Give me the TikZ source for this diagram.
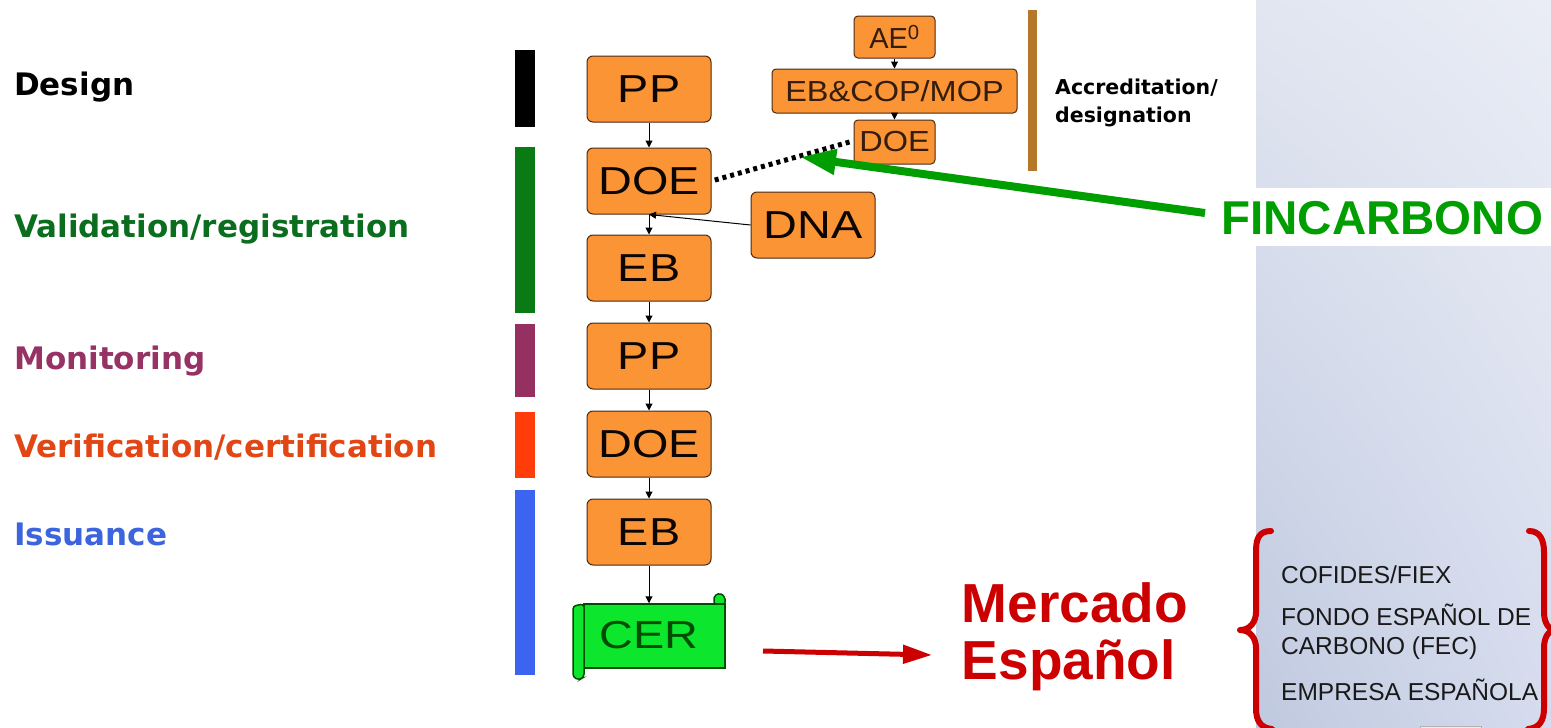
\documentclass[tikz,border=0pt]{standalone}
\usepackage{fontspec}
\setmainfont{Liberation Sans}
\newfontfamily\stagefont{DejaVu Sans}
\usetikzlibrary{arrows.meta,shadings}
\definecolor{boxfill}{HTML}{FB9434}
\definecolor{boxline}{HTML}{4A2A14}
\definecolor{scrollfill}{HTML}{0CE62C}
\definecolor{fingreen}{HTML}{009E00}
\definecolor{mktred}{HTML}{CC0000}
\definecolor{panelul}{HTML}{E2E6F1}
\definecolor{panelur}{HTML}{EAEDF5}
\definecolor{panelll}{HTML}{BFC9DF}
\definecolor{panellr}{HTML}{D6DCEE}
\definecolor{barbrown}{HTML}{B47828}
\definecolor{valcol}{HTML}{0A6E1E}
\definecolor{moncol}{HTML}{963264}
\definecolor{vercol}{HTML}{E14614}
\definecolor{isscol}{HTML}{3C64DC}
\newcommand{\widebox}[1]{\scalebox{1.2}[1]{#1}}
\newcommand{\widesmall}[1]{\scalebox{1.12}[1]{#1}}
\tikzset{
  flowbox/.style={draw=boxline,fill=boxfill,rounded corners=6pt,line width=1pt,inner sep=0pt,text=black!85!boxline,font=\fontsize{39}{39}\selectfont},
  smallbox/.style={flowbox,rounded corners=4pt,font=\fontsize{29}{29}\selectfont,text=boxline!70!black},
  stagelabel/.style={anchor=base west,inner sep=0pt,font=\stagefont\bfseries\fontsize{#1}{#1}\selectfont},
  flowarrow/.style={-{Triangle[length=7pt,width=7pt]},line width=1pt,black},
  panelitem/.style={anchor=west,inner sep=0pt,align=left,font=\fontsize{24.5}{29}\selectfont,text=black!90},
  bracestroke/.style={draw=mktred,line width=6pt,line cap=round,line join=round}
}
\begin{document}
\begin{tikzpicture}[x=1pt,y=-1pt]
\useasboundingbox (0,0) rectangle (1551,728);
\shade[upper left=panelul,upper right=panelur,lower left=panelll,lower right=panellr] (1256,0) rectangle (1551,728);
\fill[white] (1256,188) rectangle (1551,246);
\draw[gray!60,fill=gray!15] (1420,726.5) rectangle (1481,730);

\foreach \ytop/\ybot/\col in {50/127/000000, 147/313/0A7A14, 324/397/963060, 412/478/FF3C0A, 490/675/3C64F0} {
	\definecolor{barcol}{HTML}{\col}
	\fill[barcol] (515,\ytop) rectangle (535,\ybot);
}
\fill[barbrown] (1028,10) rectangle (1037,171);

\node[stagelabel=31,text=black] (design) at (14,95) {Design};
\node[stagelabel=31,text=valcol] (valid) at (14,237) {Validation/registration};
\node[stagelabel=31,text=moncol] (monit) at (14,369) {Monitoring};
\node[stagelabel=31,text=vercol] (verif) at (14,457) {Verification/certification};
\node[stagelabel=31,text=isscol] (issue) at (14,545) {Issuance};
\node[stagelabel=20.5,anchor=west,text=black,align=left] (accred) at (1055,103) {Accreditation/\\[7pt]designation};

\foreach \name/\ypos/\txt in {ppa/89/PP, doea/181/DOE, eba/268/EB, ppb/356/PP, doeb/444/DOE, ebb/532/EB} {
	\node[flowbox,minimum width=124pt,minimum height=66pt] (\name) at (649,\ypos) {\widebox{\txt}};
}
\node[flowbox,minimum width=124pt,minimum height=66pt] (dna) at (813,225) {\widebox{DNA}};
\node[smallbox,minimum width=81pt,minimum height=42pt] (ae) at (894.5,37) {AE\textsuperscript{0}};
\node[smallbox,minimum width=245pt,minimum height=44pt] (cop) at (894.5,91) {\widesmall{EB\&COP/MOP}};
\node[smallbox,minimum width=81pt,minimum height=44pt] (doec) at (894.5,142) {\widesmall{DOE}};

\draw[fill=scrollfill,draw=black!70!green,line width=1.5pt,rounded corners=2pt] (714,604) -- (714,596) -- (720,593) -- (725,597) -- (725,604) -- cycle;
\node[draw=black!70!green,fill=scrollfill,line width=1.5pt,minimum width=141pt,minimum height=64pt,inner sep=0pt] (cer) at (654.5,636) {};
\draw[fill=scrollfill,draw=black!70!green,line width=1.5pt,rounded corners=3pt] (573,606) -- (584,604) -- (584,677) -- (579,680) -- (573,677) -- cycle;
\node[inner sep=0pt,font=\fontsize{39}{39}\selectfont,text=black!70!green] (certxt) at (649,635) {\widebox{CER}};

\draw[flowarrow] (ppa) -- (doea);
\draw[flowarrow] (doea) -- (eba);
\draw[flowarrow] (eba) -- (ppb);
\draw[flowarrow] (ppb) -- (doeb);
\draw[flowarrow] (doeb) -- (ebb);
\draw[flowarrow] (ebb.south) -- (ebb.south |- cer.north);
\draw[flowarrow] (ae) -- (cop);
\draw[flowarrow] (cop) -- (doec);
\draw[flowarrow] (dna.west) -- (doea.south);
\draw[line width=5pt,black,dash pattern=on 4pt off 4pt] (doec.west) ++(-4,0) -- (doea.east);

\node[inner sep=0pt,anchor=west,font=\bfseries\fontsize{47.5}{48}\selectfont,text=fingreen] (fin) at (1221,218) {FINCARBONO};
\coordinate (finend) at (800,157);
\coordinate (finstart) at (1205,213);
\draw[fingreen,line width=8pt,-{Triangle[length=36pt,width=24pt]}] (finstart) -- (finend);

\node[inner sep=0pt,align=left,font=\bfseries\fontsize{55}{57}\selectfont,text=mktred] (mkt) at (1075,636.5) {Mercado\\Español};
\coordinate (mktstart) at (763,651);
\coordinate (mktend) at (932,655);
\draw[mktred,line width=5pt,-{Triangle[length=29pt,width=18pt]}] (mktstart) -- (mktend);

\node[panelitem] (cofides) at (1281,575) {COFIDES/FIEX};
\node[panelitem] (fondo) at (1281,632) {FONDO ESPAÑOL DE\\CARBONO (FEC)};
\node[panelitem] (empresa) at (1281,690) {EMPRESA ESPAÑOLA};

\draw[bracestroke] (1271,531) .. controls (1258,531) and (1256,540) .. (1256,552) -- (1256,612) .. controls (1256,622) and (1250,630) .. (1240,630) .. controls (1250,630) and (1256,638) .. (1256,648) -- (1256,708) .. controls (1256,720) and (1260,728) .. (1272,729);
\draw[bracestroke] (1529,531) .. controls (1540,531) and (1544,540) .. (1544,552) -- (1544,612) .. controls (1544,622) and (1548,630) .. (1556,630) .. controls (1548,630) and (1544,638) .. (1544,648) -- (1544,708) .. controls (1544,720) and (1540,728) .. (1528,729);
\end{tikzpicture}
\end{document}
